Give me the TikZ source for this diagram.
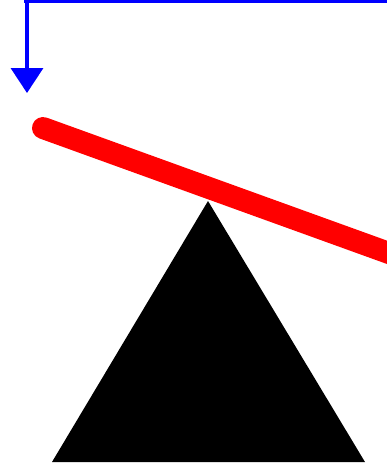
\documentclass[tikz,border=0pt]{standalone}
\usepackage{tikz}
\usetikzlibrary{arrows.meta}

\begin{document}
\begin{tikzpicture}[
  x=1pt, y=-1pt,
  force/.style={draw=blue, line width=3.5pt, -{Triangle[length=25pt,width=32pt]}},
  beam/.style={draw=red, line width=22pt, line cap=round},
  wedge/.style={fill=black}]
\clip (0,0) rectangle (387,467);
\coordinate (top) at (27,1);
\coordinate (tip) at (27,93);
\coordinate (bl) at (43,128);
\coordinate (br) at (400,257);
% pivot
\fill[wedge] (208,201) -- (365,462) -- (52,462) -- cycle;
\draw[beam] (bl) -- (br);
\draw[draw=blue, line width=3pt] (24,1) -- (400,1);
\draw[force] (top) -- (tip);
\end{tikzpicture}
\end{document}
